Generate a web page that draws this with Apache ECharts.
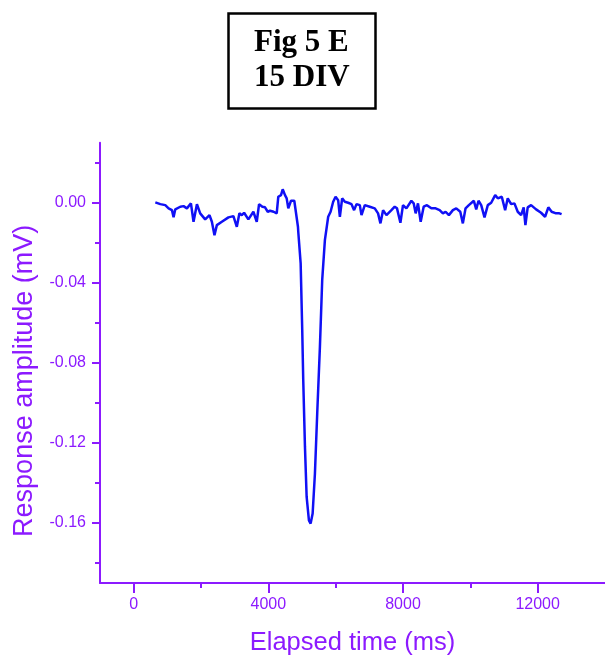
<!DOCTYPE html>
<html>
<head>
<meta charset="utf-8">
<script src="https://cdn.jsdelivr.net/npm/echarts@6/dist/echarts.min.js"></script>
<style>html,body{margin:0;padding:0;background:#fff}#chart{width:605px;height:661px}</style>
</head>
<body>
<div id="chart"></div>
<script>
const titleLines = ['Fig 5 E', '15 DIV'];
const xAxisName = 'Elapsed time (ms)';
const yAxisName = 'Response amplitude (mV)';
const xTickValues = [0, 4000, 8000, 12000];
const xMinorTickValues = [2000, 6000, 10000];
const yTickValues = [0, -0.04, -0.08, -0.12, -0.16];
const yMinorTickValues = [0.02, -0.02, -0.06, -0.10, -0.14, -0.18];

const timeMs = [643,791,939,1037,1138,1185,1236,1384,1482,1582,1701,1778,1879,1976,2124,2252,2323,2400,2471,2619,2815,2963,3013,3064,3141,3212,3280,3407,3556,3656,3725,3822,3902,3982,4050,4157,4249,4296,4376,4427,4495,4545,4593,4673,4771,4821,4880,4889,4960,5007,5037,5088,5138,5206,5256,5316,5384,5452,5532,5600,5680,5778,5849,5926,5997,6074,6125,6193,6273,6370,6471,6548,6619,6717,6767,6865,7013,7161,7259,7330,7408,7508,7656,7754,7822,7923,8000,8101,8249,8317,8376,8445,8525,8614,8711,8842,8969,9088,9185,9265,9363,9482,9582,9701,9778,9858,9956,10006,10104,10175,10243,10323,10421,10519,10620,10738,10815,10934,11034,11111,11212,11310,11408,11508,11585,11636,11704,11805,11953,12101,12220,12317,12415,12545,12643,12711];
const amplitude = [0.0002,-0.0007,-0.0012,-0.0028,-0.0037,-0.0073,-0.0033,-0.002,-0.0017,-0.0028,-0.0003,-0.0095,-0.0007,-0.0053,-0.0083,-0.0062,-0.0095,-0.0162,-0.0112,-0.0095,-0.0073,-0.0067,-0.0062,-0.012,-0.0053,-0.0062,-0.005,-0.0083,-0.0045,-0.0095,-0.0007,-0.002,-0.0023,-0.0045,-0.004,-0.0045,-0.0053,0.003,0.0038,0.0067,0.0038,0.0022,-0.0028,0.001,0.001,0.0005,-0.012,-0.0145,-0.0303,-0.0637,-0.0887,-0.122,-0.147,-0.1587,-0.1603,-0.1553,-0.1353,-0.1053,-0.072,-0.0387,-0.0187,-0.007,-0.0045,0.0005,0.003,0.0013,-0.007,0.0022,0.0005,0.0,-0.0007,-0.0037,-0.0007,-0.0012,-0.0062,-0.0012,-0.002,-0.0028,-0.0053,-0.0103,-0.0037,-0.0062,-0.0037,-0.002,-0.0028,-0.01,-0.0012,-0.0028,0.001,-0.0003,-0.0053,-0.0003,-0.0095,-0.002,-0.0012,-0.0028,-0.0028,-0.0037,-0.0053,-0.0045,-0.0062,-0.0037,-0.0028,-0.0045,-0.0103,-0.0028,-0.0012,-0.0012,0.001,-0.0033,0.001,-0.0012,-0.0073,-0.0012,0.0,0.0038,0.0022,0.003,-0.0037,0.0022,-0.0007,-0.0003,-0.0045,-0.0062,-0.0023,-0.0112,-0.0023,-0.0012,-0.0033,-0.005,-0.007,-0.0023,-0.0045,-0.0053,-0.0053,-0.0057];

const axisColor = '#8c1aff';
const lineColor = '#1010f5';
const chart = echarts.init(document.getElementById('chart'), null, {renderer: 'canvas'});
const data = timeMs.map((t, i) => [t, amplitude[i]]);

const axisFont = {color: axisColor, fontFamily: 'Liberation Sans, Arial, sans-serif', fontSize: 16};

chart.setOption({
  animation: false,
  backgroundColor: '#fff',
  title: {
    text: titleLines.join('\n'),
    left: 228, top: 13,
    padding: [12, 26, 14, 26],
    borderColor: '#000', borderWidth: 2.5,
    textAlign: 'left',
    textStyle: {fontFamily: 'Liberation Serif, Times New Roman, serif', fontWeight: 'bold', fontSize: 31, lineHeight: 35, color: '#000', align: 'center'}
  },
  grid: {left: 100, right: 0, top: 142.7, bottom: 77.7, containLabel: false},
  xAxis: [{
    type: 'value', min: -1000, max: 14000,
    name: xAxisName, nameLocation: 'middle', nameGap: 47,
    nameTextStyle: {color: axisColor, fontFamily: 'Liberation Sans, Arial, sans-serif', fontSize: 25.5},
    axisLine: {onZero: false, lineStyle: {color: axisColor, width: 2}},
    axisTick: {show: true, inside: false, length: 10, lineStyle: {color: axisColor, width: 2}, customValues: xTickValues},
    axisLabel: Object.assign({margin: 14, customValues: xTickValues, formatter: v => String(v)}, axisFont),
    splitLine: {show: false}
  }, {
    type: 'value', min: -1000, max: 14000, position: 'bottom',
    axisLine: {show: false, onZero: false},
    axisTick: {show: true, length: 5, lineStyle: {color: axisColor, width: 2}, customValues: xMinorTickValues},
    axisLabel: {show: false},
    splitLine: {show: false}
  }],
  yAxis: [{
    type: 'value', min: -0.19, max: 0.03,
    name: yAxisName, nameLocation: 'middle', nameGap: 62, nameRotate: 90,
    nameTextStyle: {color: axisColor, fontFamily: 'Liberation Sans, Arial, sans-serif', fontSize: 27, padding: [0, 36, 0, 0]},
    axisLine: {onZero: false, lineStyle: {color: axisColor, width: 2}},
    axisTick: {show: true, inside: false, length: 8, lineStyle: {color: axisColor, width: 2}, customValues: yTickValues},
    axisLabel: Object.assign({margin: 14, customValues: yTickValues, formatter: v => v.toFixed(2)}, axisFont),
    splitLine: {show: false}
  }, {
    type: 'value', min: -0.19, max: 0.03, position: 'left',
    axisLine: {show: false, onZero: false},
    axisTick: {show: true, length: 5, lineStyle: {color: axisColor, width: 2}, customValues: yMinorTickValues},
    axisLabel: {show: false},
    splitLine: {show: false}
  }],
  series: [{
    type: 'line', data: data, xAxisIndex: 0, yAxisIndex: 0,
    showSymbol: false, symbol: 'none', smooth: false,
    lineStyle: {color: lineColor, width: 2.5}
  }]
});
</script>
</body>
</html>
